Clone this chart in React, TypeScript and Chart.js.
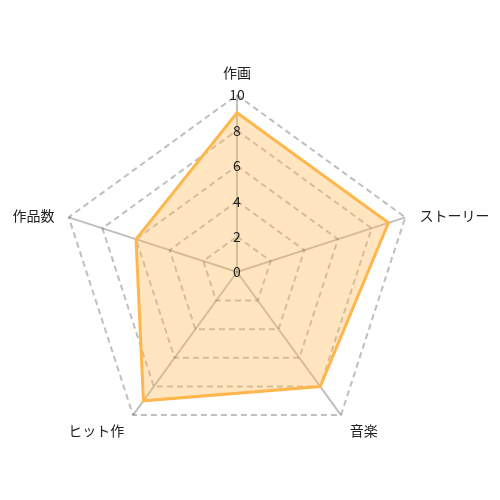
import { useRef, useEffect } from "react";
import { Chart, registerables, type ChartConfiguration } from "chart.js";

Chart.register(...registerables);

const categories = ["作画", "ストーリー", "音楽", "ヒット作", "作品数"];
const scores = [9, 9, 8, 9, 6];

const tickFont = { family: "'Noto Sans CJK JP', 'Noto Sans', sans-serif", size: 14 };
const labelFont = "14px 'Noto Sans CJK JP', sans-serif";

// Chart.js hides the first tick label and places axis names its own way;
// the reference shows "0" at the centre and names just off each spoke tip.
const radarText = {
  id: "radarText",
  afterDraw(chart: Chart) {
    const scale: any = chart.scales.r;
    if (!scale) return;
    const ctx = chart.ctx;
    ctx.save();
    const c = scale.getPointPositionForValue(0, 0);
    ctx.font = `${tickFont.size}px ${tickFont.family}`;
    ctx.fillStyle = "#222";
    ctx.textAlign = "center";
    ctx.textBaseline = "middle";
    ctx.fillText("0", c.x, c.y);

    ctx.font = labelFont;
    categories.forEach((name, i) => {
      const p = scale.getPointPosition(i, scale.drawingArea + 15);
      const dx = p.x - scale.xCenter;
      const dy = p.y - scale.yCenter;
      ctx.textAlign = Math.abs(dx) < 1 ? "center" : dx > 0 ? "left" : "right";
      if (Math.abs(dx) < 1 && dy < 0) {
        ctx.textBaseline = "bottom";
        ctx.fillText(name, p.x, p.y);
      } else {
        ctx.textBaseline = "middle";
        ctx.fillText(name, p.x, p.y + 3);
      }
    });
    ctx.restore();
  },
};

export default function App() {
  const canvasRef = useRef<HTMLCanvasElement | null>(null);
  const chartRef = useRef<Chart | null>(null);

  useEffect(() => {
    if (!canvasRef.current) return;
    const ctx = canvasRef.current.getContext("2d");
    if (!ctx) return;
    if (chartRef.current) chartRef.current.destroy();

    const config: ChartConfiguration = {
      type: "radar",
      data: {
        labels: categories,
        datasets: [
          {
            label: "評価",
            data: scores,
            backgroundColor: "rgba(255,183,77,0.35)",
            borderColor: "rgb(255,183,77)",
            borderWidth: 3,
            pointRadius: 0,
          },
        ],
      },
      options: {
        animation: false,
        responsive: true,
        layout: { padding: { top: 26 } },
        plugins: {
          legend: { display: false },
          tooltip: { enabled: false },
        },
        scales: {
          r: {
            min: 0,
            max: 10,
            ticks: {
              stepSize: 2,
              showLabelBackdrop: false,
              color: "#222",
              font: tickFont,
              z: 1,
            },
            grid: {
              color: "rgba(0,0,0,0.25)",
              lineWidth: 2,
            },
            border: { dash: [6, 4] },
            angleLines: { color: "rgba(0,0,0,0.25)", lineWidth: 2 },
            pointLabels: {
              // kept for layout only, drawn by the plugin above
              color: "rgba(0,0,0,0)",
              font: { family: "'Noto Sans CJK JP', sans-serif", size: 12 },
            },
          },
        },
      },
      plugins: [radarText],
    };

    chartRef.current = new Chart(ctx, config);
    return () => {
      if (chartRef.current) chartRef.current.destroy();
      chartRef.current = null;
    };
  }, []);

  return (
    <div style={{ width: 484, height: 484 }}>
      <canvas ref={canvasRef} />
    </div>
  );
}
